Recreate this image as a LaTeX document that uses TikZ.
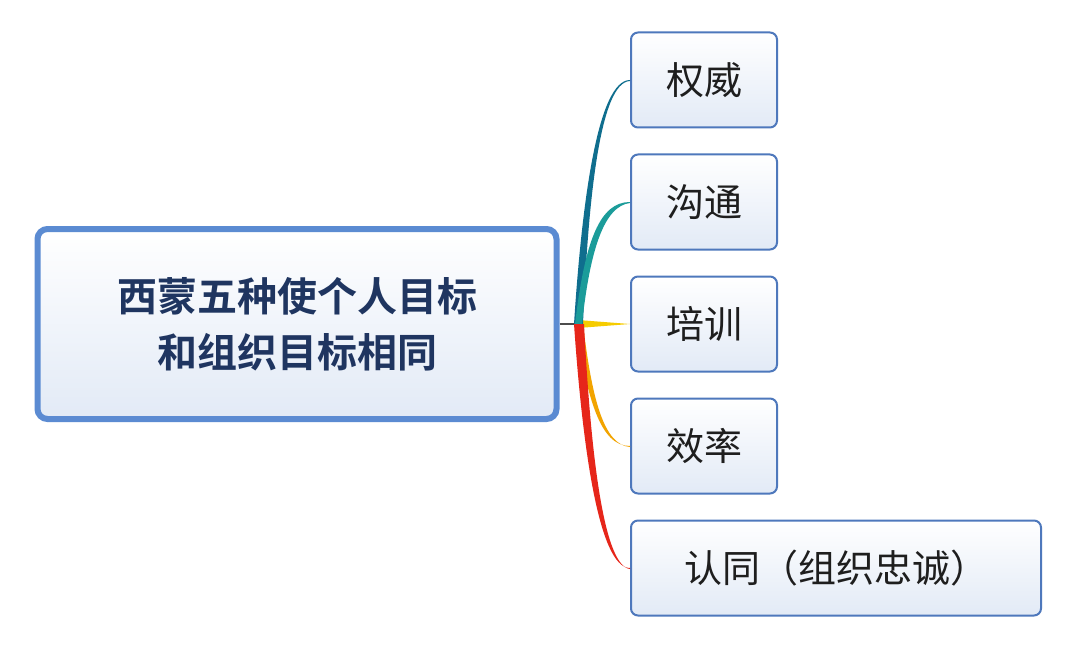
\documentclass[tikz,border=0pt]{standalone}
\usepackage{fontspec}
\usetikzlibrary{calc}
\newfontfamily\cjk{Noto Sans CJK SC}
\newfontfamily\cjkb{Noto Sans CJK SC Bold}
\begin{document}
\begin{tikzpicture}[x=1pt,y=-1pt,
  mainbox/.style={draw=mainblue,line width=6pt,rounded corners=10pt,top color=white,bottom color=boxfill,minimum width=519pt,minimum height=190pt,align=center,text=titletext,font=\cjkb\fontsize{40}{56}\selectfont},
  kid/.style={draw=kidblue,line width=2pt,rounded corners=7pt,top color=white,bottom color=boxfill,minimum height=95pt,anchor=west,inner xsep=26pt,font=\cjk\fontsize{38}{44}\selectfont,text=kidtext}]
\definecolor{mainblue}{HTML}{5B8BD2}
\definecolor{kidblue}{HTML}{4E78BC}
\definecolor{boxfill}{HTML}{E2EAF6}
\definecolor{titletext}{HTML}{1F3560}
\definecolor{kidtext}{HTML}{1E1E1E}
\definecolor{b1}{HTML}{0F6E8E}
\definecolor{b2}{HTML}{1B9C9A}
\definecolor{b3}{HTML}{F6CC00}
\definecolor{b4}{HTML}{F2A400}
\definecolor{b5}{HTML}{E6261A}
\useasboundingbox[fill=white] (0,0) rectangle (1074,650);
\node[mainbox] (m) at (297,324) {西蒙五种使个人目标\\和组织目标相同};
\node[kid,minimum width=146pt] (k1) at (630,80) {权威};
\node[kid,minimum width=146pt] (k2) at (630,202) {沟通};
\node[kid,minimum width=146pt] (k3) at (630,324) {培训};
\node[kid,minimum width=146pt] (k4) at (630,446) {效率};
\node[kid,minimum width=410pt] (k5) at (630,568) {认同（组织忠诚）};
\coordinate (j) at (578,324);
\draw[line width=1.2pt,draw=black!70] (m.east) -- (j);
% tapered branches
\fill[b3] ($(j)+(0,-4)$) -- (k3.west) -- ($(j)+(0,4)$) -- cycle;
\fill[b1] (574,324) .. controls (582,200) and (598,80) .. (k1.west) -- (630,81) .. controls (600,82) and (588,200) .. (583,324) -- cycle;
\fill[b2] (575,324) .. controls (585,240) and (600,202) .. (k2.west) -- (630,203) .. controls (604,206) and (590,250) .. (582,324) -- cycle;
\fill[b4] (575,324) .. controls (588,400) and (600,446) .. (k4.west) -- (630,447) .. controls (604,445) and (592,400) .. (583,324) -- cycle;
\fill[b5] (574,324) .. controls (582,440) and (598,568) .. (k5.west) -- (630,569) .. controls (602,566) and (590,440) .. (584,324) -- cycle;
\end{tikzpicture}
\end{document}
